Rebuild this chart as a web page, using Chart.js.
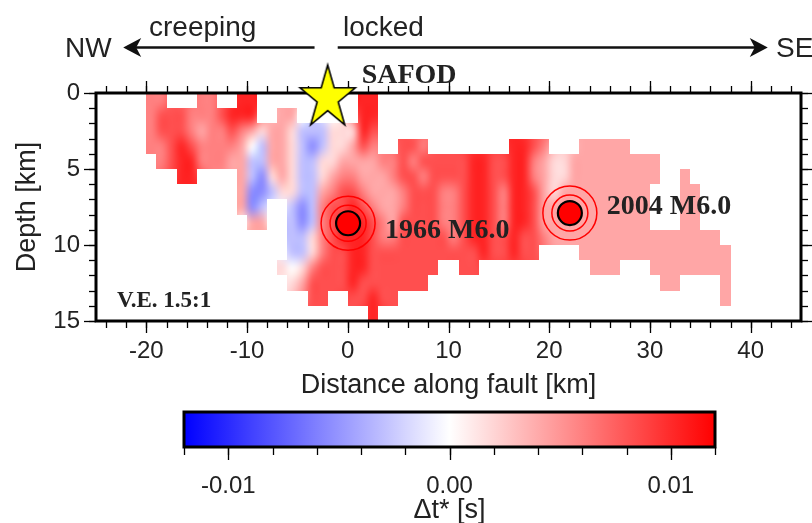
<!DOCTYPE html>
<html><head><meta charset="utf-8">
<script src="https://cdn.jsdelivr.net/npm/chart.js@4/dist/chart.umd.min.js"></script>
<style>
html,body{margin:0;padding:0;background:#fff;}
#wrap{position:relative;width:812px;height:523px;overflow:hidden;background:#fff;}
#main{position:absolute;left:0;top:0;}
#cbar{position:absolute;left:0;top:402px;}
</style></head><body>
<div id="wrap">
<canvas id="main" width="812" height="402"></canvas>
<canvas id="cbar" width="812" height="125"></canvas>
</div>
<script>
// ---------------- DATA ----------------
// Each depth row (1 km bins from 0 km) is a list of runs: [first column (km), codes];
// every code is one 1-km column. Codes: 'B','b' negative (blue), 'w' ~0, '1'..'5' positive (red).
const levelCodes  = ['B', 'b', 'w', '1', '2', '3', '4', '5'];
const levelValues = [-0.0055, -0.003, 0, 0.0018, 0.0042, 0.006, 0.0083, 0.0103];
const row00 = [[-20, "33"], [-15, "33"], [-11, "55"], [1, "55"]];
const row01 = [[-20, "34443334555"], [-7, "22"], [1, "55"]];
const row02 = [[-20, "3444323343212"], [-7, "21bbb111"], [1, "54"]];
const row03 = [[-20, "3345433332wb2"], [-7, "21bBb112"], [1, "43"], [5, "443"], [16, "5543"], [23, "22222"]];
const row04 = [[-19, "345533322bb2"], [-7, "21bb1122"], [1, "2233"], [5, "43444445544"], [16, "5532112"], [23, "22222222"]];
const row05 = [[-17, "55"], [-11, "2bB1"], [-7, "21bb1233"], [1, "2223"], [5, "44344445544"], [16, "5532112"], [23, "22222222"], [33, "2"]];
const row06 = [[-11, "2BBb"], [-7, "11bb2344"], [1, "3222"], [5, "34443345543"], [16, "5542122"], [23, "2222222"], [33, "22"]];
const row07 = [[-11, "2Bb"], [-6, "bBb3445"], [1, "4322"], [5, "34443345543"], [16, "5542222"], [23, "2222222"], [33, "22"]];
const row08 = [[-10, "22"], [-6, "bBb3455"], [1, "5432"], [5, "44443345543"], [16, "5542222"], [23, "2222222"], [33, "22"]];
const row09 = [[-6, "bb13455"], [1, "5433"], [5, "44444345544"], [16, "5443222"], [23, "2222222"], [30, "2222222"]];
const row10 = [[-6, "bb13445"], [1, "5444"], [5, "44444444544"], [16, "544"], [23, "2222222"], [30, "22222222"]];
const row11 = [[-7, "1w134445"], [1, "5444"], [5, "4444"], [11, "44"], [24, "222"], [30, "22222222"]];
const row12 = [[-6, "1244445"], [1, "4444"], [5, "444"], [31, "22"], [37, "2"]];
const row13 = [[-4, "44"], [0, "445"], [3, "44"], [37, "2"]];
const row14 = [[2, "5"]];
const depthRows = [row00, row01, row02, row03, row04, row05, row06, row07, row08, row09, row10, row11, row12, row13, row14];

const quakeNames = ['1966 M6.0', '2004 M6.0'];
const quakeDist  = [0.03, 22.05];   // km along fault
const quakeDepth = [8.57, 7.9];     // km
const siteName   = ['SAFOD'];
const siteDist   = [-2.0];
const siteDepth  = [0.33];
const xRange = [-25, 45];
const yRange = [0, 15];
const xTickValues = [-20, -10, 0, 10, 20, 30, 40];
const yTickValues = [0, 5, 10, 15];
const xMinorStep = 2, yMinorStep = 1;
const cbRange = [-0.012, 0.012];
const cbTickValues = [-0.01, 0.0, 0.01];
const cbMinorStep = 0.002;
const xTitle = 'Distance along fault [km]';
const yTitle = 'Depth [km]';
const cbTitle = 'Δt* [s]';
const veLabel = 'V.E. 1.5:1';
const dirLabels = ['NW', 'creeping', 'locked', 'SE'];

// ---------------- HELPERS ----------------
function cmapRGB(v) {
  const t = Math.max(-1, Math.min(1, v / 0.012));
  if (t >= 0) { const g = Math.round(255 * (1 - t)); return [255, g, g]; }
  const g = Math.round(255 * (1 + t)); return [g, g, 255];
}
function cmap(v) { const c = cmapRGB(v); return `rgb(${c[0]},${c[1]},${c[2]})`; }

let gMin = Infinity, gMax = -Infinity;
depthRows.forEach(row => row.forEach(([x0, s]) => { gMin = Math.min(gMin, x0); gMax = Math.max(gMax, x0 + s.length); }));
const xStart = gMin;
const nCols = gMax - gMin, nRows = depthRows.length;
const grid = depthRows.map(() => new Array(nCols).fill(null));
const cells = [];
depthRows.forEach((row, r) => row.forEach(([x0, s]) => {
  for (let j = 0; j < s.length; j++) {
    const k = levelCodes.indexOf(s[j]);
    if (k < 0) continue;
    grid[r][x0 + j - xStart] = levelValues[k];
    cells.push({x0: x0 + j, x1: x0 + j + 1, d0: r, d1: r + 1});
  }
}));

const raster = document.createElement('canvas');
raster.width = nCols; raster.height = nRows;
(function () {
  let g = grid.map(r => r.slice());
  for (let pass = 0; pass < 4; pass++) {
    const ng = g.map(r => r.slice());
    for (let r = 0; r < nRows; r++) for (let i = 0; i < nCols; i++) {
      if (g[r][i] !== null) continue;
      let s = 0, n = 0;
      for (let dr = -1; dr <= 1; dr++) for (let di = -1; di <= 1; di++) {
        const rr = r + dr, ii = i + di;
        if (rr < 0 || rr >= nRows || ii < 0 || ii >= nCols) continue;
        if (g[rr][ii] !== null) { s += g[rr][ii]; n++; }
      }
      if (n) ng[r][i] = s / n;
    }
    g = ng;
  }
  const c = raster.getContext('2d');
  const img = c.createImageData(nCols, nRows);
  for (let r = 0; r < nRows; r++) for (let i = 0; i < nCols; i++) {
    const v = g[r][i] === null ? 0 : g[r][i];
    const col = cmapRGB(v);
    const o = (r * nCols + i) * 4;
    img.data[o] = col[0]; img.data[o + 1] = col[1]; img.data[o + 2] = col[2]; img.data[o + 3] = 255;
  }
  c.putImageData(img, 0, 0);
})();

Chart.defaults.font.family = "'Liberation Sans', Arial, sans-serif";
Chart.defaults.color = '#222';
const SERIF = "bold 28px 'Liberation Serif', 'Times New Roman', serif";
const SANS28 = "28px 'Liberation Sans', Arial, sans-serif";

const starImg = document.createElement('canvas');
starImg.width = 70; starImg.height = 80;
(function () {
  const c = starImg.getContext('2d');
  c.save(); c.translate(35, 40); c.scale(1, 1.14);
  c.beginPath();
  for (let k = 0; k < 10; k++) {
    const r = k % 2 ? 11.1 : 29;
    const a = -Math.PI / 2 + k * Math.PI / 5;
    const px = r * Math.cos(a), py = r * Math.sin(a);
    k ? c.lineTo(px, py) : c.moveTo(px, py);
  }
  c.closePath(); c.restore();
  c.fillStyle = '#ffff00'; c.fill();
  c.lineWidth = 1.6; c.strokeStyle = '#000'; c.stroke();
})();

function drawTicks(ctx, scale, from, to, step, isX, edge, dir, len) {
  const n = Math.round((to - from) / step);
  for (let k = 0; k <= n; k++) {
    const v = from + k * step;
    const p = Math.round(scale.getPixelForValue(v)) + 0.5;
    ctx.beginPath();
    if (isX) { ctx.moveTo(p, edge); ctx.lineTo(p, edge + dir * len); }
    else { ctx.moveTo(edge, p); ctx.lineTo(edge + dir * len, p); }
    ctx.stroke();
  }
}
function drawTickList(ctx, scale, list, isX, edge, dir, len) {
  list.forEach(v => {
    const p = Math.round(scale.getPixelForValue(v)) + 0.5;
    ctx.beginPath();
    if (isX) { ctx.moveTo(p, edge); ctx.lineTo(p, edge + dir * len); }
    else { ctx.moveTo(edge, p); ctx.lineTo(edge + dir * len, p); }
    ctx.stroke();
  });
}

const heatPlugin = {
  id: 'heat',
  beforeDatasetsDraw(chart) {
    const {ctx, chartArea: a, scales: {x, y}} = chart;
    ctx.save();
    ctx.beginPath(); ctx.rect(a.left, a.top, a.width, a.height); ctx.clip();
    ctx.beginPath();
    cells.forEach(c => {
      const px0 = Math.round(x.getPixelForValue(c.x0)), px1 = Math.round(x.getPixelForValue(c.x1));
      const py0 = Math.round(y.getPixelForValue(c.d0)), py1 = Math.round(y.getPixelForValue(c.d1));
      ctx.rect(px0, py0, px1 - px0, py1 - py0);
    });
    ctx.clip('nonzero');
    const gx0 = x.getPixelForValue(xStart), gx1 = x.getPixelForValue(xStart + nCols);
    const gy0 = y.getPixelForValue(0), gy1 = y.getPixelForValue(nRows);
    ctx.imageSmoothingEnabled = true;
    ctx.imageSmoothingQuality = 'high';
    ctx.drawImage(raster, gx0, gy0, gx1 - gx0, gy1 - gy0);
    ctx.restore();
    ctx.save();
    ctx.strokeStyle = '#000';
    ctx.lineWidth = 1.3;
    drawTicks(ctx, x, -24, 44, xMinorStep, true, a.top, -1, 7);
    drawTicks(ctx, x, -24, 44, xMinorStep, true, a.bottom, 1, 7);
    drawTickList(ctx, x, xTickValues, true, a.top, -1, 12);
    drawTickList(ctx, x, xTickValues, true, a.bottom, 1, 12);
    drawTicks(ctx, y, 0, 15, yMinorStep, false, a.left, -1, 7);
    drawTicks(ctx, y, 0, 15, yMinorStep, false, a.right, 1, 7);
    drawTickList(ctx, y, yTickValues, false, a.left, -1, 12);
    drawTickList(ctx, y, yTickValues, false, a.right, 1, 12);
    ctx.lineWidth = 3;
    ctx.strokeRect(a.left, a.top, a.width, a.height);
    ctx.restore();
  },
  afterDraw(chart) {
    const {ctx, chartArea: a, scales: {x, y}} = chart;
    ctx.save();
    ctx.fillStyle = '#222';
    ctx.textBaseline = 'alphabetic';
    ctx.textAlign = 'left';
    ctx.font = SERIF;
    ctx.fillText(siteName[0], x.getPixelForValue(siteDist[0]) + 34, 83);
    ctx.fillText(quakeNames[0], x.getPixelForValue(quakeDist[0]) + 37, y.getPixelForValue(quakeDepth[0]) + 15);
    ctx.fillText(quakeNames[1], x.getPixelForValue(quakeDist[1]) + 37, y.getPixelForValue(quakeDepth[1]) + 1);
    ctx.font = "bold 23px 'Liberation Serif', 'Times New Roman', serif";
    ctx.fillText(veLabel, a.left + 21, a.bottom - 14);
    ctx.font = SANS28;
    ctx.fillText(dirLabels[0], 65, 57);
    ctx.fillText(dirLabels[1], 149, 36);
    ctx.fillText(dirLabels[2], 343, 36);
    ctx.fillText(dirLabels[3], 776, 57);
    const yA = 47.5;
    function arrow(xFrom, xTo) {
      const d = xTo > xFrom ? 1 : -1;
      ctx.strokeStyle = '#111'; ctx.fillStyle = '#111';
      ctx.lineWidth = 2.4;
      ctx.beginPath(); ctx.moveTo(xFrom, yA); ctx.lineTo(xTo - d * 12, yA); ctx.stroke();
      ctx.beginPath();
      ctx.moveTo(xTo, yA);
      ctx.lineTo(xTo - d * 18, yA - 9.5);
      ctx.lineTo(xTo - d * 13, yA);
      ctx.lineTo(xTo - d * 18, yA + 9.5);
      ctx.closePath(); ctx.fill();
    }
    arrow(x.getPixelForValue(-3.3), x.getPixelForValue(-22.3));
    arrow(x.getPixelForValue(-1.0), x.getPixelForValue(41.7));
    ctx.restore();
  }
};

new Chart(document.getElementById('main'), {
  type: 'scatter',
  data: {
    datasets: [
      { data: siteDist.map((d, i) => ({x: d, y: siteDepth[i]})), pointStyle: starImg, pointRadius: 30, clip: false },
      { data: quakeDist.map((d, i) => ({x: d, y: quakeDepth[i]})), pointRadius: 12, backgroundColor: '#ff0000', borderColor: '#000', borderWidth: 2.2 },
      { data: quakeDist.map((d, i) => ({x: d, y: quakeDepth[i]})), pointRadius: 18, backgroundColor: 'rgba(0,0,0,0)', borderColor: '#ff0000', borderWidth: 1.5 },
      { data: quakeDist.map((d, i) => ({x: d, y: quakeDepth[i]})), pointRadius: 27, backgroundColor: 'rgba(0,0,0,0)', borderColor: '#ff0000', borderWidth: 1.5 }
    ]
  },
  options: {
    responsive: false, animation: false, events: [],
    layout: {autoPadding: false, padding: {top: 93, right: 11, left: 0, bottom: 0}},
    plugins: {legend: {display: false}, tooltip: {enabled: false}},
    elements: {point: {hoverRadius: 0}},
    scales: {
      x: {
        type: 'linear', min: xRange[0], max: xRange[1],
        afterFit(s) { s.height = 81; s.paddingLeft = 0; s.paddingRight = 0; },
        afterBuildTicks(s) { s.ticks = xTickValues.map(v => ({value: v})); },
        ticks: {font: {size: 24}, color: '#222', padding: 16, maxRotation: 0, autoSkip: false, callback: v => String(v)},
        grid: {display: false, drawTicks: false}, border: {display: false},
        title: {display: true, text: xTitle, font: {size: 27}, color: '#222', padding: {top: 0, bottom: 0}}
      },
      y: {
        type: 'linear', reverse: true, min: yRange[0], max: yRange[1],
        afterFit(s) { s.width = 96; s.paddingTop = 0; s.paddingBottom = 0; },
        afterBuildTicks(s) { s.ticks = yTickValues.map(v => ({value: v})); },
        ticks: {font: {size: 24}, color: '#222', padding: 16, autoSkip: false, callback: v => String(v)},
        grid: {display: false, drawTicks: false}, border: {display: false},
        title: {display: true, text: yTitle, font: {size: 27}, color: '#222', padding: {top: 11, bottom: 0}}
      }
    }
  },
  plugins: [heatPlugin]
});

const cbPlugin = {
  id: 'cb',
  beforeDatasetsDraw(chart) {
    const {ctx, chartArea: a, scales: {x}} = chart;
    const l = x.getPixelForValue(cbRange[0]), r = x.getPixelForValue(cbRange[1]);
    const g = ctx.createLinearGradient(l, 0, r, 0);
    const n = 24;
    for (let k = 0; k <= n; k++) {
      const v = cbRange[0] + (cbRange[1] - cbRange[0]) * k / n;
      g.addColorStop(k / n, cmap(v));
    }
    ctx.save();
    ctx.fillStyle = g;
    ctx.fillRect(l, a.top, r - l, a.height);
    ctx.strokeStyle = '#000';
    ctx.lineWidth = 1.3;
    drawTicks(ctx, x, cbRange[0], cbRange[1], cbMinorStep, true, a.bottom, 1, 8);
    drawTickList(ctx, x, cbTickValues, true, a.bottom, 1, 13);
    ctx.lineWidth = 3;
    ctx.strokeRect(l, a.top, r - l, a.height);
    ctx.restore();
  }
};
new Chart(document.getElementById('cbar'), {
  type: 'scatter',
  data: {datasets: []},
  options: {
    responsive: false, animation: false, events: [],
    layout: {autoPadding: false, padding: {left: 184, right: 97, top: 10, bottom: 0}},
    plugins: {legend: {display: false}, tooltip: {enabled: false}},
    scales: {
      x: {
        type: 'linear', min: cbRange[0], max: cbRange[1],
        afterFit(s) { s.height = 80; s.paddingLeft = 0; s.paddingRight = 0; },
        afterBuildTicks(s) { s.ticks = cbTickValues.map(v => ({value: v})); },
        ticks: {font: {size: 24}, color: '#222', padding: 25, maxRotation: 0, autoSkip: false,
          callback: v => Number(v).toFixed(2)},
        grid: {display: false, drawTicks: false}, border: {display: false},
        title: {display: true, text: cbTitle, font: {size: 27}, color: '#222', padding: {top: 0, bottom: 0}}
      },
      y: {display: false, min: 0, max: 1}
    }
  },
  plugins: [cbPlugin]
});
</script>
</body></html>
